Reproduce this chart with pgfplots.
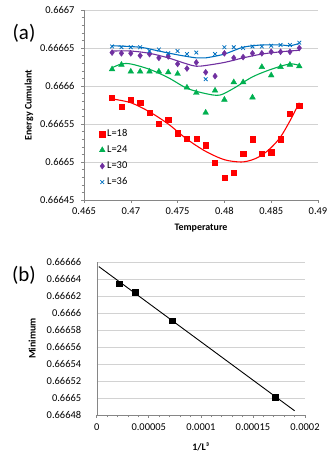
\documentclass[border=0pt]{standalone}
\usepackage{fontspec}
\setmainfont{Carlito}
\usepackage{pgfplots}
\pgfplotsset{compat=1.18}
\definecolor{exred}{RGB}{255,0,0}
\definecolor{exgreen}{RGB}{0,176,80}
\definecolor{expurple}{RGB}{112,48,160}
\definecolor{exblue}{RGB}{0,112,192}
\definecolor{gridgray}{RGB}{210,210,210}
\definecolor{axisgray}{RGB}{134,134,134}
\begin{document}
\begin{tikzpicture}
\path (0,0) rectangle (332bp,-463bp);
\node at (24bp,-33bp) {\fontsize{21}{24}\selectfont (a)};
\node at (24bp,-275bp) {\fontsize{21}{24}\selectfont (b)};
\begin{axis}[
  at={(84bp,-10bp)}, anchor=north west,
  scale only axis, width=234bp, height=190bp,
  xmin=0.465, xmax=0.49, ymin=0.66645, ymax=0.6667,
  axis x line*=bottom, axis y line*=left,
  axis line style={-, draw=axisgray},
  xtick={0.465,0.47,0.475,0.48,0.485,0.49},
  xticklabels={0.465,0.47,0.475,0.48,0.485,0.49},
  ytick={0.66645,0.6665,0.66655,0.6666,0.66665,0.6667},
  yticklabels={0.66645,0.6665,0.66655,0.6666,0.66665,0.6667},
  minor y tick num=4,
  ymajorgrids, major grid style={gridgray, line width=0.8pt},
  tick align=outside, major tick length=3bp, minor tick length=2.5bp,
  tick style={axisgray, line width=0.6pt},
  ticklabel style={font=\fontsize{10.5}{12}\selectfont},
  yticklabel style={xshift=-3bp},
  xticklabel style={yshift=-1bp},
  xlabel={\textbf{Temperature}}, ylabel={\textbf{Energy Cumulant}},
  label style={font=\fontsize{11}{13}\selectfont},
  every axis x label/.style={at={(axis description cs:0.5,-0.147)}, anchor=center},
  every axis y label/.style={at={(axis description cs:-0.235,0.5)}, rotate=90, anchor=center},
  legend style={draw=none, fill=none, at={(axis description cs:0.065,0.39)}, anchor=north west,
    font=\fontsize{10.5}{12}\selectfont, inner sep=0pt,
    nodes={text height=6.5bp, text depth=1.5bp, inner ysep=4bp}},
  legend cell align=left,
  legend image code/.code={\draw[mark repeat=2,mark phase=2,#1] plot coordinates {(0cm,0cm) (0.1cm,0cm) (0.2cm,0cm)};},
]
% trend curves
\addplot[exred, line width=1.1pt, smooth, forget plot] coordinates {
(0.468,0.666583) (0.470,0.666578) (0.472,0.666566) (0.474,0.666550) (0.476,0.666530)
(0.478,0.666514) (0.480,0.666503) (0.4818,0.666500) (0.483,0.666503) (0.484,0.666509)
(0.485,0.666519) (0.486,0.666533) (0.487,0.666554) (0.488,0.666578)};
\addplot[exgreen, line width=1.1pt, smooth, forget plot] coordinates {
(0.468,0.666624) (0.469,0.666629) (0.470,0.666629) (0.472,0.666622) (0.474,0.666611)
(0.476,0.666597) (0.478,0.666590) (0.4795,0.666588) (0.481,0.666597) (0.483,0.666612)
(0.485,0.666622) (0.487,0.666629) (0.488,0.666627)};
\addplot[expurple, line width=1.1pt, smooth, forget plot] coordinates {
(0.468,0.666646) (0.470,0.666646) (0.472,0.666643) (0.474,0.666637) (0.476,0.666629)
(0.477,0.666626) (0.478,0.666627) (0.480,0.666631) (0.482,0.666637) (0.484,0.666642)
(0.486,0.666645) (0.488,0.666647)};
\addplot[exblue, line width=1.1pt, smooth, forget plot] coordinates {
(0.468,0.666653) (0.471,0.666651) (0.473,0.666646) (0.475,0.666641) (0.477,0.666637)
(0.478,0.666637) (0.480,0.666642) (0.482,0.666651) (0.484,0.666654) (0.486,0.666654)
(0.487,0.666653) (0.488,0.666656)};
% data
\addplot[only marks, mark=square*, mark size=2.6bp, color=exred] coordinates {
(0.468,0.666585) (0.469,0.666573) (0.470,0.666582) (0.471,0.666578) (0.472,0.666565)
(0.473,0.666550) (0.474,0.666556) (0.475,0.666538) (0.476,0.666531) (0.477,0.666531)
(0.478,0.666522) (0.479,0.666499) (0.480,0.666479) (0.481,0.666486) (0.482,0.666511)
(0.483,0.666530) (0.484,0.666511) (0.485,0.666513) (0.486,0.666530) (0.487,0.666564)
(0.488,0.666574)};
\addlegendentry{L=18}
\addplot[only marks, mark=triangle*, mark size=3.3bp, color=exgreen] coordinates {
(0.468,0.666622) (0.469,0.666628) (0.470,0.666619) (0.471,0.666619) (0.472,0.666619)
(0.473,0.666619) (0.474,0.666618) (0.475,0.666616) (0.476,0.666598) (0.477,0.666591)
(0.478,0.666565) (0.479,0.666594) (0.480,0.666582) (0.481,0.666605) (0.482,0.666605)
(0.483,0.666585) (0.484,0.666625) (0.485,0.666614) (0.486,0.666625) (0.487,0.666628)
(0.488,0.666626)};
\addlegendentry{L=24}
\addplot[only marks, mark=diamond*, mark size=3bp, color=expurple] coordinates {
(0.468,0.666644) (0.469,0.666643) (0.470,0.666643) (0.471,0.666640) (0.472,0.666642)
(0.473,0.666637) (0.474,0.666639) (0.475,0.666629) (0.476,0.666623) (0.477,0.666631)
(0.478,0.666618) (0.479,0.666613) (0.480,0.666643) (0.481,0.666637) (0.482,0.666638)
(0.483,0.666643) (0.484,0.666643) (0.485,0.666645) (0.486,0.666645) (0.487,0.666645)
(0.488,0.666650)};
\addlegendentry{L=30}
\addplot[only marks, mark=x, mark size=2.6bp, line width=0.8pt, color=exblue] coordinates {
(0.468,0.666652) (0.469,0.666651) (0.470,0.666651) (0.471,0.666651) (0.472,0.666646)
(0.473,0.666648) (0.474,0.666643) (0.475,0.666646) (0.476,0.666642) (0.477,0.666644)
(0.478,0.666609) (0.479,0.666642) (0.480,0.666651) (0.481,0.666651) (0.482,0.666650)
(0.483,0.666652) (0.484,0.666652) (0.485,0.666653) (0.486,0.666654) (0.487,0.666654)
(0.488,0.666657)};
\addlegendentry{L=36}
\end{axis}
\begin{axis}[
  at={(96.7bp,-262.3bp)}, anchor=north west,
  scale only axis, width=208.3bp, height=152.7bp,
  xmin=0, xmax=0.0002, ymin=0.66648, ymax=0.66666,
  scaled x ticks=false, scaled y ticks=false,
  axis x line*=bottom, axis y line*=left,
  axis line style={-, draw=axisgray},
  xtick={0,0.00005,0.0001,0.00015,0.0002},
  xticklabels={0,0.00005,0.0001,0.00015,0.0002},
  minor x tick num=4,
  ytick={0.66648,0.6665,0.66652,0.66654,0.66656,0.66658,0.6666,0.66662,0.66664,0.66666},
  yticklabels={0.66648,0.6665,0.66652,0.66654,0.66656,0.66658,0.6666,0.66662,0.66664,0.66666},
  ymajorgrids, major grid style={gridgray, line width=0.8pt},
  ytick style={draw=none},
  tick align=outside, major tick length=3bp, minor tick length=2.5bp,
  xtick style={axisgray, line width=0.6pt},
  ticklabel style={font=\fontsize{10.5}{12}\selectfont},
  yticklabel style={xshift=-9bp},
  xticklabel style={yshift=-2bp},
  xlabel={\textbf{1/L³}}, ylabel={\textbf{Minimum}},
  label style={font=\fontsize{11.5}{13}\selectfont},
  every axis x label/.style={at={(axis description cs:0.5,-0.208)}, anchor=center},
  every axis y label/.style={at={(axis description cs:-0.31,0.5)}, rotate=90, anchor=center},
]
\addplot[black, line width=0.9pt] coordinates {(0.000002,0.666655) (0.00019,0.666485)};
\addplot[only marks, mark=square*, mark size=2.8bp, black] coordinates {
(0.0000214,0.666635) (0.0000370,0.666625) (0.0000723,0.666591) (0.0001715,0.666501)};
\end{axis}
\end{tikzpicture}
\end{document}
